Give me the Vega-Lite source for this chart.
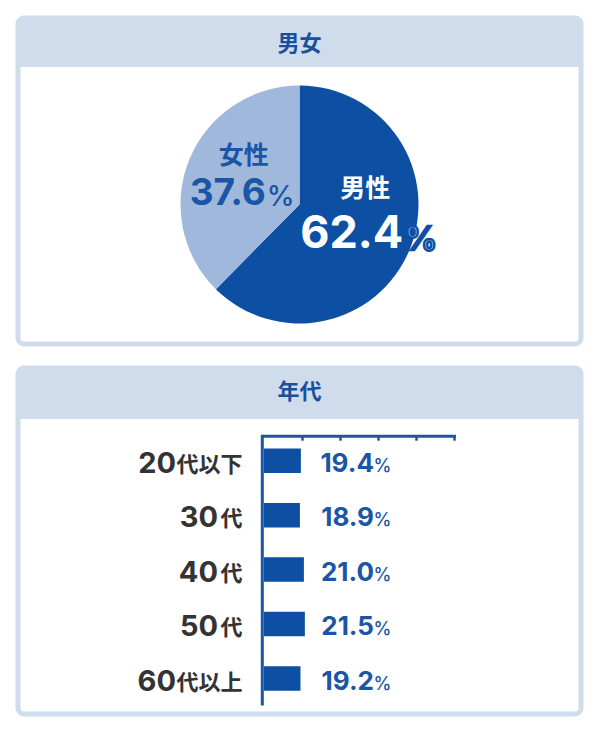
{
  "$schema": "https://vega.github.io/schema/vega-lite/v6.json",
  "padding": {"left": 15, "top": 15, "right": 0, "bottom": 0},
  "background": "white",
  "config": {"font": "Inter, Noto Sans CJK JP", "view": {"stroke": null}},
  "datasets": {
    "gender": [
      {"sex": "男性", "share": 62.4, "label": "62.4"},
      {"sex": "女性", "share": 37.6, "label": "37.6"}
    ],
    "age": [
      {"age": "20代以下", "num": "20", "suffix": "代以下", "share": 19.4, "label": "19.4"},
      {"age": "30代", "num": "30", "suffix": "代", "share": 18.9, "label": "18.9"},
      {"age": "40代", "num": "40", "suffix": "代", "share": 21.0, "label": "21.0"},
      {"age": "50代", "num": "50", "suffix": "代", "share": 21.5, "label": "21.5"},
      {"age": "60代以上", "num": "60", "suffix": "代以上", "share": 19.2, "label": "19.2"}
    ]
  },
  "spacing": 18,
  "vconcat": [
    {
      "width": 563, "height": 326,
      "title": {"text": "男女", "orient": "top", "anchor": "middle", "frame": "group", "baseline": "middle", "offset": -47.5, "font": "Noto Sans CJK JP", "fontWeight": "bold", "fontSize": 22, "color": "#1a4f9c"},
      "view": {
        "fill": {"gradient": "linear", "x1": 0, "y1": 0, "x2": 0, "y2": 1, "stops": [
          {"offset": 0, "color": "#cfdcec"}, {"offset": 0.1518, "color": "#cfdcec"},
          {"offset": 0.1518, "color": "#ffffff"}, {"offset": 1, "color": "#ffffff"}]},
        "stroke": "#cfdcec", "strokeWidth": 5, "cornerRadius": 6
      },
      "data": {"name": "gender"},
      "encoding": {
        "theta": {"field": "share", "type": "quantitative", "stack": true},
        "order": {"field": "share", "sort": "descending"}
      },
      "layer": [
        {
          "mark": {"type": "arc", "outerRadius": 119, "yOffset": 23.5},
          "encoding": {"color": {"field": "sex", "type": "nominal", "scale": {"domain": ["男性", "女性"], "range": ["#0d4fa3", "#a0b8dc"]}, "legend": null}}
        },
        {
          "mark": {"type": "text", "radius": 70, "yOffset": 23.5, "font": "Noto Sans CJK JP", "fontWeight": "bold", "fontSize": 25, "color": "white", "align": "center", "baseline": "middle", "dx": 1, "dy": -42},
          "encoding": {"text": {"condition": {"test": "datum.sex == '男性'", "field": "sex"}, "value": ""}}
        },
        {
          "mark": {"type": "text", "radius": 70, "yOffset": 23.5, "font": "Inter", "fontWeight": "bold", "fontSize": 45, "color": "white", "align": "right", "baseline": "alphabetic", "dx": 39, "dy": 16.5},
          "encoding": {"text": {"condition": {"test": "datum.sex == '男性'", "field": "label"}, "value": ""}}
        },
        {
          "mark": {"type": "text", "radius": 70, "yOffset": 23.5, "font": "Inter", "fontWeight": 600, "fontSize": 33, "color": "white", "stroke": "#0d4fa3", "strokeWidth": 2.5, "align": "left", "baseline": "alphabetic", "dx": 40, "dy": 18.5},
          "encoding": {"text": {"condition": {"test": "datum.sex == '男性'", "value": "%"}, "value": ""}}
        },
        {
          "mark": {"type": "text", "radius": 70, "yOffset": 23.5, "font": "Noto Sans CJK JP", "fontWeight": "bold", "fontSize": 25, "color": "#1a55a6", "align": "center", "baseline": "middle", "dx": 9, "dy": -21.5},
          "encoding": {"text": {"condition": {"test": "datum.sex == '女性'", "field": "sex"}, "value": ""}}
        },
        {
          "mark": {"type": "text", "radius": 70, "yOffset": 23.5, "font": "Inter", "fontWeight": "bold", "fontSize": 37, "color": "#1a55a6", "align": "right", "baseline": "alphabetic", "dx": 31, "dy": 27.5},
          "encoding": {"text": {"condition": {"test": "datum.sex == '女性'", "field": "label"}, "value": ""}}
        },
        {
          "mark": {"type": "text", "radius": 70, "yOffset": 23.5, "font": "Inter", "fontWeight": 500, "fontSize": 28, "color": "#1a55a6", "align": "left", "baseline": "alphabetic", "dx": 32, "dy": 28.5},
          "encoding": {"text": {"condition": {"test": "datum.sex == '女性'", "value": "%"}, "value": ""}}
        }
      ]
    },
    {
      "width": 563, "height": 346,
      "title": {"text": "年代", "orient": "top", "anchor": "middle", "frame": "group", "baseline": "middle", "offset": -45.5, "font": "Noto Sans CJK JP", "fontWeight": "bold", "fontSize": 22, "color": "#1a4f9c"},
      "view": {
        "fill": {"gradient": "linear", "x1": 0, "y1": 0, "x2": 0, "y2": 1, "stops": [
          {"offset": 0, "color": "#cfdcec"}, {"offset": 0.146, "color": "#cfdcec"},
          {"offset": 0.146, "color": "#ffffff"}, {"offset": 1, "color": "#ffffff"}]},
        "stroke": "#cfdcec", "strokeWidth": 5, "cornerRadius": 6
      },
      "data": {"name": "age"},
      "encoding": {
        "y": {
          "field": "age", "type": "nominal", "sort": null,
          "scale": {"range": [67.7, 335.5], "paddingInner": 0.55, "paddingOuter": 0.234},
          "axis": {"orient": "left", "offset": -243.8, "labels": false, "ticks": false, "title": null, "domainColor": "#1a55a6", "domainWidth": 3, "domainCap": "square", "grid": false}
        }
      },
      "layer": [
        {
          "mark": {"type": "bar", "color": "#0d4fa3"},
          "encoding": {
            "x": {
              "field": "share", "type": "quantitative",
              "scale": {"domain": [0, 100], "range": [246, 436], "nice": false, "zero": true},
              "axis": {"orient": "top", "offset": -67.7, "values": [20, 40, 60, 80, 100], "labels": false, "title": null, "grid": false, "domain": true, "ticks": true, "domainColor": "#1a55a6", "domainWidth": 3, "domainCap": "square", "tickColor": "#1a55a6", "tickWidth": 2.5, "tickSize": -4.5}
            }
          }
        },
        {
          "mark": {"type": "text", "font": "Noto Sans CJK JP", "fontWeight": "bold", "fontSize": 22, "color": "#333333", "align": "right", "baseline": "alphabetic", "dx": -21.5, "dy": 11},
          "encoding": {"x": {"datum": 0, "type": "quantitative"}, "text": {"field": "suffix"}}
        },
        {
          "mark": {"type": "text", "font": "Inter", "fontWeight": "bold", "fontSize": 29, "color": "#333333", "align": "right", "baseline": "alphabetic", "dx": -46, "dy": 12},
          "encoding": {"x": {"datum": 0, "type": "quantitative"}, "text": {"condition": {"test": "length(datum.suffix) == 1", "field": "num"}, "value": ""}}
        },
        {
          "mark": {"type": "text", "font": "Inter", "fontWeight": "bold", "fontSize": 29, "color": "#333333", "align": "right", "baseline": "alphabetic", "dx": -88, "dy": 12},
          "encoding": {"x": {"datum": 0, "type": "quantitative"}, "text": {"condition": {"test": "length(datum.suffix) == 3", "field": "num"}, "value": ""}}
        },
        {
          "mark": {"type": "text", "font": "Inter", "fontWeight": "bold", "fontSize": 26, "color": "#1a55a6", "align": "right", "baseline": "alphabetic", "dx": 110, "dy": 11},
          "encoding": {"x": {"datum": 0, "type": "quantitative"}, "text": {"field": "label"}}
        },
        {
          "mark": {"type": "text", "font": "Inter", "fontWeight": 500, "fontSize": 18, "color": "#1a55a6", "align": "right", "baseline": "alphabetic", "dx": 127.5, "dy": 11},
          "encoding": {"x": {"datum": 0, "type": "quantitative"}, "text": {"value": "%"}}
        }
      ]
    }
  ]
}
